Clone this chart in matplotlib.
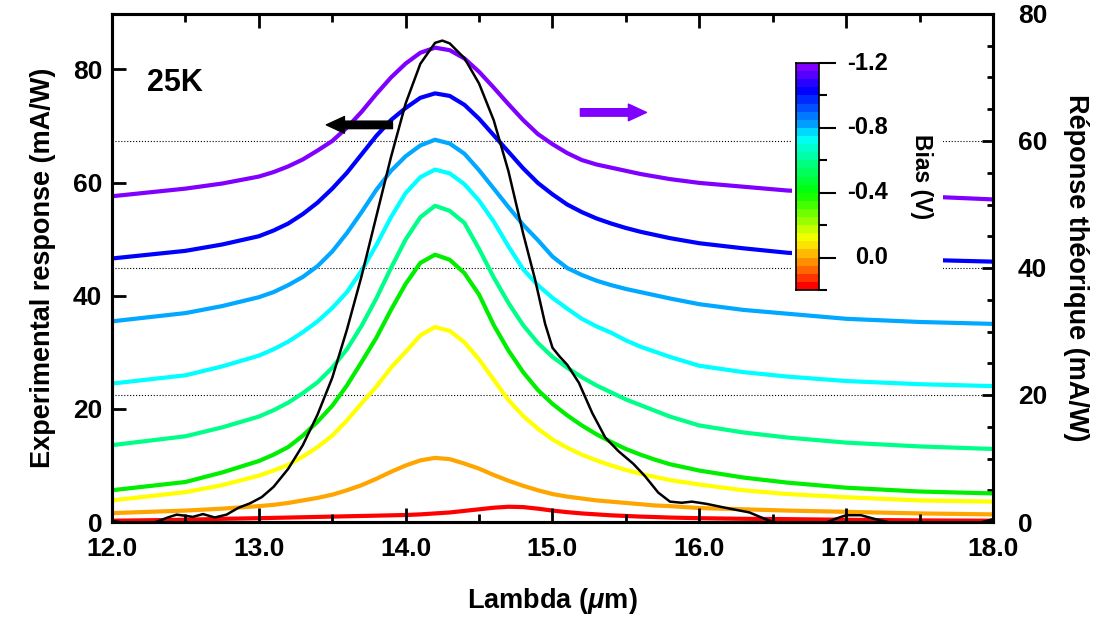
import numpy as np
import matplotlib
matplotlib.use("Agg")
import matplotlib.pyplot as plt
from matplotlib.ticker import MultipleLocator, FixedLocator, FormatStrFormatter
from matplotlib.colors import LinearSegmentedColormap
from matplotlib.patches import Rectangle

plt.rcParams['font.family'] = 'Liberation Sans'
plt.rcParams['font.weight'] = 'bold'
plt.rcParams['axes.labelweight'] = 'bold'
plt.rcParams['axes.unicode_minus'] = False
plt.rcParams['mathtext.fontset'] = 'custom'
plt.rcParams['mathtext.it'] = 'Liberation Sans:italic:bold'
plt.rcParams['mathtext.rm'] = 'Liberation Sans:bold'

# experimental response (left axis, mA/W)
lam_exp = [12.0, 12.1, 12.2, 12.3, 12.38, 12.44, 12.5, 12.55, 12.62, 12.7, 12.78, 12.86,
           12.94, 13.02, 13.1, 13.2, 13.3, 13.4, 13.5, 13.6, 13.7, 13.8, 13.9, 14.0,
           14.1, 14.2, 14.25, 14.3, 14.4, 14.5, 14.6, 14.7, 14.8, 14.88, 14.95, 15.0,
           15.05, 15.1, 15.18, 15.27, 15.36, 15.45, 15.55, 15.63, 15.72, 15.8, 15.88, 15.95,
           16.05, 16.18, 16.34, 16.45, 16.55, 16.7, 16.82, 16.92, 17.0, 17.1, 17.2, 17.3,
           17.46, 17.7, 17.9, 18.0]
resp_exp = [0.2, -0.2, -0.3, 0.0, 0.8, 1.3, 1.1, 0.9, 1.4, 0.8, 1.3, 2.5,
            3.3, 4.4, 6.2, 9.4, 13.6, 19.0, 25.5, 34.0, 43.5, 54.0, 64.5, 74.0,
            81.0, 84.7, 85.1, 84.6, 82.0, 77.5, 71.0, 62.0, 51.0, 43.0, 35.0, 30.8,
            29.2, 27.8, 24.6, 19.3, 14.9, 12.5, 10.3, 8.1, 5.2, 3.6, 3.4, 3.6,
            3.2, 2.5, 1.7, 0.5, -0.4, -0.8, -0.6, 0.5, 1.2, 1.2, 0.5, -0.1,
            -0.4, -0.3, -0.2, 0.5]

# theoretical response (right axis, mA/W), one curve per bias
lam_th = [12.0, 12.5, 12.75, 13.0, 13.1, 13.2, 13.3, 13.4, 13.5, 13.6, 13.7, 13.8,
          13.9, 14.0, 14.1, 14.2, 14.3, 14.4, 14.5, 14.6, 14.7, 14.8, 14.9, 15.0,
          15.1, 15.2, 15.3, 15.4, 15.5, 15.6, 15.7, 15.8, 16.0, 16.3, 16.6, 17.0,
          17.5, 18.0]
th_purple = [51.3, 52.5, 53.3, 54.4, 55.1, 56.0, 57.1, 58.5, 60.0, 62.1, 64.6, 67.4,
             70.0, 72.2, 73.9, 74.7, 74.3, 73.0, 70.9, 68.4, 65.8, 63.3, 61.1, 59.5,
             58.1, 57.0, 56.3, 55.8, 55.3, 54.8, 54.4, 54.0, 53.4, 52.8, 52.2, 51.8,
             51.3, 50.8]
th_blue = [41.5, 42.7, 43.7, 45.0, 45.9, 47.0, 48.5, 50.3, 52.5, 55.0, 57.9, 60.8,
           63.3, 65.2, 66.8, 67.5, 67.1, 65.7, 63.5, 60.9, 58.3, 55.7, 53.4, 51.6,
           50.0, 48.8, 47.8, 47.0, 46.3, 45.7, 45.2, 44.7, 43.9, 43.1, 42.4, 41.9,
           41.3, 41.0]
th_sky = [31.6, 32.9, 34.0, 35.4, 36.2, 37.3, 38.6, 40.3, 42.6, 45.5, 48.8, 52.3,
          55.3, 57.6, 59.3, 60.2, 59.6, 58.0, 55.4, 52.5, 49.6, 46.8, 44.4, 41.8,
          40.0, 38.9, 38.0, 37.3, 36.7, 36.2, 35.7, 35.2, 34.3, 33.4, 32.8, 32.0,
          31.5, 31.2]
th_cyan = [21.8, 23.1, 24.5, 26.2, 27.2, 28.4, 29.9, 31.6, 33.7, 36.2, 39.6, 43.6,
           48.0, 51.8, 54.3, 55.5, 54.9, 53.2, 50.6, 47.3, 43.4, 39.8, 37.3, 35.3,
           33.6, 32.0, 30.8, 29.8, 28.6, 27.6, 26.8, 26.0, 24.6, 23.6, 22.9, 22.2,
           21.7, 21.4]
th_spring = [12.1, 13.5, 14.9, 16.6, 17.6, 18.8, 20.3, 22.0, 24.3, 27.2, 30.9, 35.2,
             40.0, 44.5, 48.0, 49.8, 49.0, 47.1, 43.0, 38.5, 34.5, 31.0, 28.2, 26.0,
             24.3, 22.8, 21.5, 20.4, 19.3, 18.4, 17.5, 16.6, 15.2, 14.1, 13.3, 12.5,
             11.9, 11.5]
th_green = [5.0, 6.3, 7.8, 9.6, 10.6, 11.8, 13.6, 15.8, 18.3, 21.5, 25.2, 29.0,
            33.4, 37.5, 40.8, 42.1, 41.3, 39.2, 35.8, 31.0, 27.0, 23.6, 20.8, 18.6,
            16.8, 15.2, 13.8, 12.6, 11.5, 10.6, 9.8, 9.1, 8.1, 7.0, 6.2, 5.4,
            4.8, 4.5]
th_yellow = [3.4, 4.7, 5.8, 7.3, 8.1, 9.0, 10.3, 11.8, 13.6, 16.0, 18.7, 21.3,
             24.3, 26.8, 29.4, 30.7, 30.1, 28.3, 25.6, 22.4, 19.2, 16.7, 14.7, 13.0,
             11.7, 10.6, 9.7, 8.9, 8.2, 7.6, 7.1, 6.6, 5.9, 5.0, 4.4, 3.9,
             3.4, 3.2]
th_orange = [1.4, 1.8, 2.1, 2.5, 2.7, 3.0, 3.4, 3.8, 4.3, 5.0, 5.8, 6.8,
             7.9, 8.9, 9.7, 10.1, 9.9, 9.2, 8.4, 7.4, 6.5, 5.7, 5.0, 4.4,
             4.0, 3.7, 3.4, 3.2, 3.0, 2.8, 2.6, 2.5, 2.2, 2.0, 1.8, 1.6,
             1.35, 1.2]
th_red = [0.2, 0.35, 0.5, 0.6, 0.65, 0.7, 0.75, 0.8, 0.85, 0.9, 0.95, 1.0,
          1.05, 1.1, 1.2, 1.35, 1.5, 1.75, 2.0, 2.25, 2.4, 2.35, 2.1, 1.8,
          1.55, 1.35, 1.2, 1.05, 0.95, 0.85, 0.78, 0.7, 0.6, 0.5, 0.45, 0.35,
          0.25, 0.2]

curves = [th_red, th_orange, th_yellow, th_green, th_spring, th_cyan, th_sky, th_blue, th_purple]
colors = ['#ff0000', '#ffa500', '#ffff00', '#00ee00', '#00ff88', '#00ffff', '#00a8ff', '#0000ff', '#7f00ff']

bias_ticks = [-1.2, -0.8, -0.4, 0.0]
bias_minor = [-1.0, -0.6, -0.2, 0.2]

fig = plt.figure(figsize=(10.97, 6.23), dpi=100)
rect = [112 / 1097, 1 - 522 / 623, 881 / 1097, 508 / 623]
ax = fig.add_axes(rect)
ax2 = ax.twinx()
ax.set_zorder(0.5)
ax.patch.set_visible(False)

for ys, c in zip(curves, colors):
    ax2.plot(lam_th, ys, color=c, lw=3, solid_capstyle='butt', solid_joinstyle='round')
ax.plot(lam_exp, resp_exp, color='black', lw=1.8, solid_joinstyle='round')

ax.set_xlim(12, 18)
ax.set_ylim(0, 89.8)
ax2.set_ylim(0, 80)

ax.xaxis.set_major_locator(MultipleLocator(1))
ax.xaxis.set_minor_locator(MultipleLocator(0.5))
ax.xaxis.set_major_formatter(FormatStrFormatter('%.1f'))
ax.yaxis.set_major_locator(MultipleLocator(20))
ax2.yaxis.set_major_locator(MultipleLocator(20))
ax2.yaxis.set_minor_locator(MultipleLocator(5))

ax2.grid(True, which='major', color='black', linestyle=':', linewidth=0.8)

for s in ax.spines.values():
    s.set_linewidth(2.2)
for s in ax2.spines.values():
    s.set_linewidth(2.2)

ax.tick_params(axis='x', which='major', direction='in', top=True, bottom=True,
               length=10, width=2, labelsize=19, pad=11)
ax.tick_params(axis='x', which='minor', direction='in', top=True, bottom=True,
               length=6, width=2)
ax.tick_params(axis='y', which='major', direction='in', left=True, right=False,
               length=10, width=2, labelsize=19, pad=7)
ax2.tick_params(axis='y', which='major', direction='in', length=8, width=2,
                labelsize=19, pad=18)
ax2.tick_params(axis='y', which='minor', direction='in', length=4, width=2)

ax.set_xlabel(r'Lambda ($\mu$m)', fontsize=19.5, labelpad=18)
ax.set_ylabel('Experimental response (mA/W)', fontsize=19.5, labelpad=12)
ax2.set_ylabel('Réponse théorique (mA/W)', fontsize=19.5, rotation=-90, labelpad=30)

ax.text(12.24, 77.6, '25K', fontsize=22, va='center', ha='left')

arrow = 'simple,head_length=0.65,head_width=0.6,tail_width=0.27'
ax.annotate('', xy=(13.46, 70.2), xytext=(13.91, 70.2),
            arrowprops=dict(arrowstyle=arrow, color='black', mutation_scale=20,
                            shrinkA=0, shrinkB=0))
ax.annotate('', xy=(15.64, 72.4), xytext=(15.19, 72.4),
            arrowprops=dict(arrowstyle=arrow, color='#7f00ff', mutation_scale=20,
                            shrinkA=0, shrinkB=0))

# white box behind the colour scale
fig.add_artist(Rectangle((792 / 1097, 1 - 305 / 623), 151 / 1097, 258 / 623,
                         transform=fig.transFigure, facecolor='white',
                         edgecolor='none', zorder=1))

# colour scale
stops = [(0.0, '#8000ff'), (0.11, '#0000ff'), (0.26, '#00a0ff'), (0.32, '#00ffff'),
         (0.43, '#00ff90'), (0.57, '#00ff00'), (0.71, '#a0ff00'), (0.79, '#ffff00'),
         (0.86, '#ffb000'), (0.93, '#ff6000'), (1.0, '#ff0000')]
cmap = LinearSegmentedColormap.from_list('bias', stops, N=28)
cax = fig.add_axes([796 / 1097, 1 - 290 / 623, 23 / 1097, 227 / 623])
cax.set_zorder(2)
edges = np.linspace(-1.2, 0.2, 57)
centers = 0.5 * (edges[:-1] + edges[1:])
cax.pcolormesh([0, 1], edges, centers[:, None], cmap=cmap, vmin=-1.2, vmax=0.2)
cax.set_xlim(0, 1)
cax.set_ylim(0.2, -1.2)
cax.set_xticks([])
cax.yaxis.set_major_locator(FixedLocator(bias_ticks))
cax.yaxis.set_minor_locator(FixedLocator(bias_minor))
cax.yaxis.tick_right()
cax.tick_params(axis='y', which='major', direction='out', length=12, width=1.5,
                labelright=False, left=False)
cax.tick_params(axis='y', which='minor', direction='out', length=6, width=1.5, left=False)
for s in cax.spines.values():
    s.set_linewidth(1.2)
for b in bias_ticks:
    cax.text(4.0, b, '%.1f' % b, transform=cax.get_yaxis_transform(),
             ha='right', va='center', fontsize=17)
cax.text(5.45, -0.5, 'Bias (V)', transform=cax.get_yaxis_transform(),
         ha='center', va='center', rotation=-90, fontsize=16.5)

fig.savefig('out.png', dpi=100)
